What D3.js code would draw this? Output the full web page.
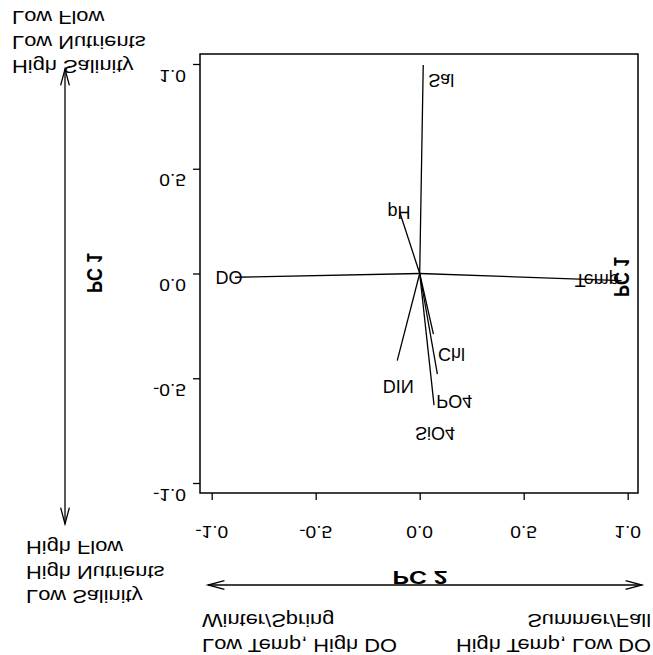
<!DOCTYPE html>
<html><head><meta charset="utf-8">
<script src="https://cdn.jsdelivr.net/npm/d3@7"></script>
<style>html,body{margin:0;padding:0;background:#fff;overflow:hidden}</style>
</head><body>
<svg id="c" width="653" height="655"></svg>
<script>
// ---- data ----
const variables = ["Sal", "pH", "DO", "Temp", "DIN", "Chl", "PO4", "SiO4"];
const pc2Loadings = [0.017, -0.095, -0.888, 0.971, -0.108, 0.066, 0.085, 0.069];
const pc1Loadings = [0.995, 0.290, -0.018, -0.034, -0.416, -0.289, -0.480, -0.628];
const tickValues = [-1.0, -0.5, 0.0, 0.5, 1.0];
const tickLabels = ["-1.0", "-0.5", "0.0", "0.5", "1.0"];
const topNotes = ["Low Flow", "Low Nutrients", "High Salinity"];
const bottomNotes = ["High Flow", "High Nutrients", "Low Salinity"];
const leftSeason = ["Winter/Spring", "Low Temp, High DO"];
const rightSeason = ["Summer/Fall", "High Temp, Low DO"];

// ---- layout ----
const FONT = "'Liberation Sans', Arial, Helvetica, sans-serif";
const box = {left: 200, top: 54, right: 638, bottom: 493};
const x = d3.scaleLinear().domain([-1, 1]).range([211.7, 627.7]);
const y = d3.scaleLinear().domain([-1, 1]).range([483, 64]);
const labelOffset = {
  Sal: [5, 15, "start"], pH: [-1, -1, "middle"], DO: [-6, 0, "middle"],
  Temp: [-25, -1, "middle"], DIN: [1, 25, "middle"], Chl: [18, 20, "middle"],
  PO4: [17, 27, "middle"], SiO4: [1, 28, "middle"]
};

const svg = d3.select("#c");
svg.append("rect").attr("width", 653).attr("height", 655).attr("fill", "#fff");

// flipped text helper (each label mirrored vertically in its own frame)
function ftext(g, tx, ty, str, o) {
  o = o || {};
  const sx = o.sx || 1, rot = o.rot || 0;
  return g.append("text")
    .attr("transform", `translate(${tx},${ty}) scale(${sx},1) rotate(${rot}) scale(1,-1)`)
    .attr("text-anchor", o.anchor || "middle")
    .attr("dominant-baseline", "central")
    .attr("font-family", FONT)
    .attr("font-size", o.size || 15)
    .attr("font-weight", o.bold ? "bold" : "normal")
    .attr("fill", "#000")
    .text(str);
}

const g = svg.append("g");

// plot box
g.append("rect").attr("x", box.left).attr("y", box.top)
  .attr("width", box.right - box.left).attr("height", box.bottom - box.top)
  .attr("fill", "none").attr("stroke", "#000").attr("stroke-width", 1.5);

// axes ticks
const xAxis = d3.axisBottom(x).tickValues(tickValues).tickSize(7).tickFormat("");
const yAxis = d3.axisLeft(y).tickValues(tickValues).tickSize(7).tickFormat("");
const gx = g.append("g").attr("transform", `translate(0,${box.bottom})`).call(xAxis);
const gy = g.append("g").attr("transform", `translate(${box.left},0)`).call(yAxis);
[gx, gy].forEach(a => {
  a.select(".domain").remove();
  a.selectAll("line").attr("stroke", "#000").attr("stroke-width", 1.3);
});
tickValues.forEach((v, i) => {
  ftext(g, x(v), 531, tickLabels[i], {size: 16, sx: 1.2});
  ftext(g, 186, y(v) + 11, tickLabels[i], {size: 16, sx: 1.2, anchor: "end"});
});

// loading vectors
variables.forEach((name, i) => {
  g.append("line")
    .attr("x1", x(0)).attr("y1", y(0))
    .attr("x2", x(pc2Loadings[i])).attr("y2", y(pc1Loadings[i]))
    .attr("stroke", "#000").attr("stroke-width", 1.3);
  const off = labelOffset[name];
  ftext(g, x(pc2Loadings[i]) + off[0], y(pc1Loadings[i]) + off[1], name,
        {size: 18, anchor: off[2]});
});

// axis titles
ftext(g, 420, 577, "PC 2", {size: 19, bold: true, sx: 1.3});
ftext(g, 95, 273, "PC 1", {size: 18, bold: true, sx: 1.25, rot: -90});
ftext(g, 622, 277, "PC 1", {size: 18, bold: true, sx: 1.25, rot: -90});

// double arrows
function arrowHead(x0, y0, x1, y1) {
  const ang = Math.atan2(y1 - y0, x1 - x0), L = 17, a = 0.26;
  const p = d3.path();
  p.moveTo(x1 - L * Math.cos(ang - a), y1 - L * Math.sin(ang - a));
  p.lineTo(x1, y1);
  p.lineTo(x1 - L * Math.cos(ang + a), y1 - L * Math.sin(ang + a));
  g.append("path").attr("d", p.toString()).attr("fill", "none")
    .attr("stroke", "#000").attr("stroke-width", 1.3);
}
function dblArrow(x0, y0, x1, y1) {
  g.append("line").attr("x1", x0).attr("y1", y0).attr("x2", x1).attr("y2", y1)
    .attr("stroke", "#000").attr("stroke-width", 1.3);
  arrowHead(x0, y0, x1, y1);
  arrowHead(x1, y1, x0, y0);
}
dblArrow(65, 69, 65, 524);
dblArrow(208, 585, 642, 585);

// notes
const NOTE = {size: 19, sx: 1.15};
topNotes.forEach((t, i) => ftext(g, 12, 18 + i * 24.5, t, Object.assign({anchor: "start"}, NOTE)));
bottomNotes.forEach((t, i) => ftext(g, 26, 548 + i * 24.5, t, Object.assign({anchor: "start"}, NOTE)));
leftSeason.forEach((t, i) => ftext(g, 202, 621 + i * 25, t, Object.assign({anchor: "start"}, NOTE)));
rightSeason.forEach((t, i) => ftext(g, 651, 621 + i * 25, t, Object.assign({anchor: "end"}, NOTE)));
</script>
</body></html>
